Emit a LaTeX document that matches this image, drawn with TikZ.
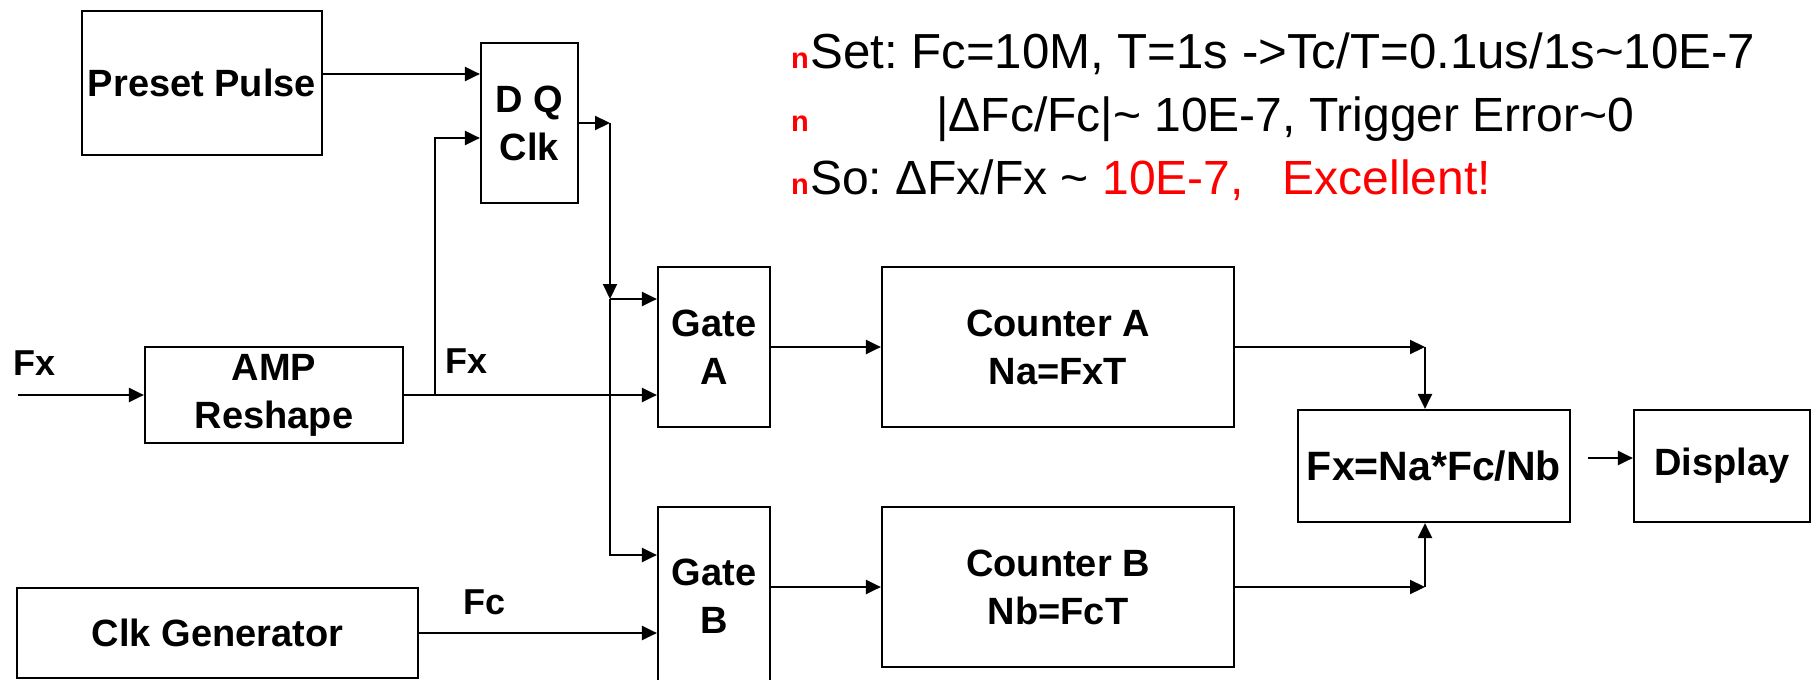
\documentclass[tikz,border=0pt]{standalone}
\usepackage{fontspec}
\setmainfont{Liberation Sans}
\usetikzlibrary{arrows.meta}
\definecolor{pred}{RGB}{255,0,0}
\newcommand{\bulletn}{\textcolor{pred}{\fontsize{29}{29}\selectfont\bfseries n}}
\frenchspacing
\begin{document}
\begin{tikzpicture}[x=1pt,y=-1pt,
  blk/.style={draw, line width=2.2pt, inner sep=0pt, align=center,
    font=\bfseries\fontsize{38}{48}\selectfont},
  arr/.style={-{Triangle[length=15pt,width=14pt]}, line width=2.2pt},
  lbl/.style={anchor=base west, inner sep=0pt, font=\bfseries\fontsize{36}{36}\selectfont},
  txt/.style={anchor=base west, inner sep=0pt, font=\fontsize{48}{48}\selectfont},
  bul/.style={anchor=base west, inner sep=0pt}]
\path[use as bounding box] (0,0) rectangle (1816,680);
\clip (0,0) rectangle (1816,680);

% blocks
\node[blk, minimum width=240pt, minimum height=144pt] (preset) at (202,83) {Preset Pulse};
\node[blk, minimum width=97pt, minimum height=160pt] (dq) at (529.5,123) {D Q\\Clk};
\node[blk, minimum width=258pt, minimum height=96pt] (amp) at (274,395) {AMP\\Reshape};
\node[blk, minimum width=112pt, minimum height=160pt] (gateA) at (714,347) {Gate\\A};
\node[blk, minimum width=112pt, minimum height=178pt] (gateB) at (714,596) {Gate\\B};
\node[blk, minimum width=401pt, minimum height=90pt] (clk) at (217.5,633) {Clk Generator};
\node[blk, minimum width=352pt, minimum height=160pt] (ctrA) at (1058,347) {Counter A\\Na=FxT};
\node[blk, minimum width=352pt, minimum height=160pt] (ctrB) at (1058,587) {Counter B\\Nb=FcT};
\node[blk, minimum width=272pt, minimum height=112pt, font=\bfseries\fontsize{41}{48}\selectfont] (calc) at (1434,466) {Fx=Na*Fc/Nb};
\node[blk, minimum width=176pt, minimum height=112pt] (disp) at (1722,466) {Display};

% labels
\node[lbl] (fxl1) at (13,375) {Fx};
\node[lbl] (fxl2) at (445,373) {Fx};
\node[lbl] (fcl) at (463,614) {Fc};

% ports
\coordinate (pp) at ([yshift=9pt]preset.east);
\coordinate (dqclk) at ([yshift=-15pt]dq.west);
\coordinate (fxin) at (18,395);
\coordinate (br) at (435,395);
\coordinate (ga1) at ([yshift=48pt]gateA.west);
\coordinate (ga2) at ([yshift=-48pt]gateA.west);
\coordinate (gb1) at ([yshift=41pt]gateB.west);
\coordinate (qc) at (610,123);
\coordinate (qd) at (610,299);
\coordinate (ca) at (1425,347);
\coordinate (cb) at (1425,587);
\coordinate (cd) at ([xshift=17pt,yshift=8pt]calc.east);

% connectors
\draw[arr] (pp) -- (pp -| dq.west);
\draw[arr] (fxin) -- (amp.west);
\draw[arr] (amp.east) -- (ga2);
\draw[arr] (br) |- (dqclk);
\draw[arr] (dq.east) -- (qc);
\draw[arr] (qc) -- (qd);
\draw[arr] (qd) -- (ga1);
\draw[arr] (qd) |- (gb1);
\draw[arr] (clk.east) -- (clk.east -| gateB.west);
\draw[arr] (gateA.east) -- (ctrA.west);
\draw[arr] (ctrB.west -| gateB.east) -- (ctrB.west);
\draw[arr] (ctrA.east) -- (ca);
\draw[arr] (ca) -- (ca |- calc.north);
\draw[arr] (ctrB.east) -- (cb);
\draw[arr] (cb) -- (cb |- calc.south);
\draw[arr] (cd) -- (cd -| disp.west);

% text block
\node[bul] (b1) at (791,68) {\bulletn};
\node[txt, font=\fontsize{49.2}{49.2}\selectfont] (t1) at (810,68) {Set: Fc=10M, T=1s ->Tc/T=0.1us/1s\textasciitilde 10E-7};
\node[bul] (b2) at (791,131) {\bulletn};
\node[txt] (t2) at (936,131) {|ΔFc/Fc|\textasciitilde{} 10E-7, Trigger Error\textasciitilde 0};
\node[bul] (b3) at (791,194) {\bulletn};
\node[txt] (t3) at (810,194) {So: ΔFx/Fx \textasciitilde{} \textcolor{pred}{10E-7,}\hspace{39pt}\textcolor{pred}{Excellent!}};
\end{tikzpicture}
\end{document}
